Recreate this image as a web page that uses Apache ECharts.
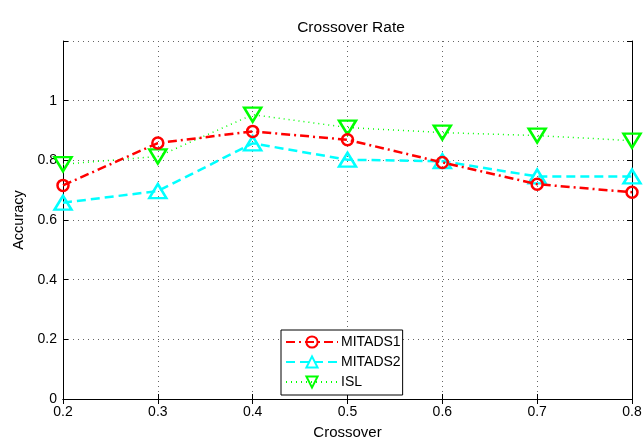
<!DOCTYPE html>
<html>
<head>
<meta charset="utf-8">
<script src="https://cdn.jsdelivr.net/npm/echarts@6/dist/echarts.min.js"></script>
<style>
  html, body { margin: 0; padding: 0; background: #fff; }
  #main { width: 643px; height: 438px; }
</style>
</head>
<body>
<div id="main"></div>
<script>
// crossover rates on the x axis
var crossover = [0.2, 0.3, 0.4, 0.5, 0.6, 0.7, 0.8];
var mitads1 = [0.716, 0.858, 0.897, 0.869, 0.793, 0.72, 0.693];
var mitads2 = [0.658, 0.697, 0.857, 0.802, 0.797, 0.746, 0.746];
var isl = [0.787, 0.813, 0.953, 0.91, 0.893, 0.883, 0.866];
var seriesNames = ['MITADS1', 'MITADS2', 'ISL'];

function pairs(ys) {
  return crossover.map(function (x, i) { return [x, ys[i]]; });
}

var font = 'Liberation Sans, Arial, sans-serif';

var option = {
  animation: false,
  backgroundColor: '#fff',
  title: {
    text: 'Crossover Rate',
    left: 346,
    top: 15,
    textAlign: 'center',
    textStyle: { fontFamily: font, fontSize: 15.5, fontWeight: 'normal', color: '#000' }
  },
  legend: {
    orient: 'vertical',
    left: 281,
    top: 330,
    padding: [5, 2, 6, 4],
    itemGap: 6,
    itemWidth: 52,
    itemHeight: 14,
    backgroundColor: '#fff',
    borderColor: '#000',
    borderWidth: 1,
    borderRadius: 0,
    data: seriesNames,
    textStyle: { fontFamily: font, fontSize: 14, color: '#000', padding: [0, 0, 0, -2] }
  },
  grid: { left: 63, right: 11, top: 41, bottom: 39, outerBoundsMode: 'none' },
  xAxis: [{
    type: 'value',
    min: 0.2, max: 0.8, interval: 0.1,
    name: 'Crossover',
    nameLocation: 'middle',
    nameGap: 26,
    nameTextStyle: { fontFamily: font, fontSize: 15, color: '#000' },
    axisLine: { lineStyle: { color: '#000', width: 1 } },
    axisTick: { inside: true, length: 5, lineStyle: { color: '#000' } },
    axisLabel: { fontFamily: font, fontSize: 14, color: '#000', margin: 6 },
    splitLine: { show: true, lineStyle: { color: '#666', type: [1, 4], width: 1 } }
  }, {
    type: 'value', position: 'top',
    min: 0.2, max: 0.8, interval: 0.1,
    axisLine: { lineStyle: { color: '#000', width: 1 } },
    axisTick: { inside: true, length: 5, lineStyle: { color: '#000' } },
    axisLabel: { show: false },
    splitLine: { show: false }
  }],
  yAxis: [{
    type: 'value',
    min: 0, max: 1.2, interval: 0.2,
    name: 'Accuracy',
    nameLocation: 'middle',
    nameGap: 35,
    nameTextStyle: { fontFamily: font, fontSize: 14.5, color: '#000' },
    axisLine: { show: true, lineStyle: { color: '#000', width: 1 } },
    axisTick: { show: true, inside: true, length: 5, lineStyle: { color: '#000' } },
    axisLabel: {
      fontFamily: font, fontSize: 14, color: '#000', margin: 6,
      formatter: function (v) { return v > 1.1 ? '' : String(+v.toFixed(1)); }
    },
    splitLine: { show: true, lineStyle: { color: '#666', type: [1, 4], width: 1 } }
  }, {
    type: 'value', position: 'right',
    min: 0, max: 1.2, interval: 0.2,
    axisLine: { show: true, lineStyle: { color: '#000', width: 1 } },
    axisTick: { show: true, inside: true, length: 5, lineStyle: { color: '#000' } },
    axisLabel: { show: false },
    splitLine: { show: false }
  }],
  series: [
    {
      name: 'MITADS1',
      type: 'line',
      data: pairs(mitads1),
      symbol: 'circle',
      symbolSize: 11,
      lineStyle: { color: '#ff0000', width: 2.5, type: [9, 4, 2, 4] },
      itemStyle: { color: 'rgba(255,255,255,0)', borderColor: '#ff0000', borderWidth: 2.5 },
      z: 3
    },
    {
      name: 'MITADS2',
      type: 'line',
      data: pairs(mitads2),
      symbol: 'triangle',
      symbolSize: [17, 14],
      lineStyle: { color: '#00ffff', width: 2.5, type: [9, 5] },
      itemStyle: { color: 'rgba(255,255,255,0)', borderColor: '#00ffff', borderWidth: 2.5 },
      z: 2
    },
    {
      name: 'ISL',
      type: 'line',
      data: pairs(isl),
      symbol: 'triangle',
      symbolRotate: 180,
      symbolSize: [17, 14],
      lineStyle: { color: '#00ff00', width: 1.5, type: [1, 4] },
      itemStyle: { color: 'rgba(255,255,255,0)', borderColor: '#00ff00', borderWidth: 2.5 },
      z: 1
    }
  ]
};

var chart = echarts.init(document.getElementById('main'), null, { renderer: 'canvas' });
chart.setOption(option);
</script>
</body>
</html>
